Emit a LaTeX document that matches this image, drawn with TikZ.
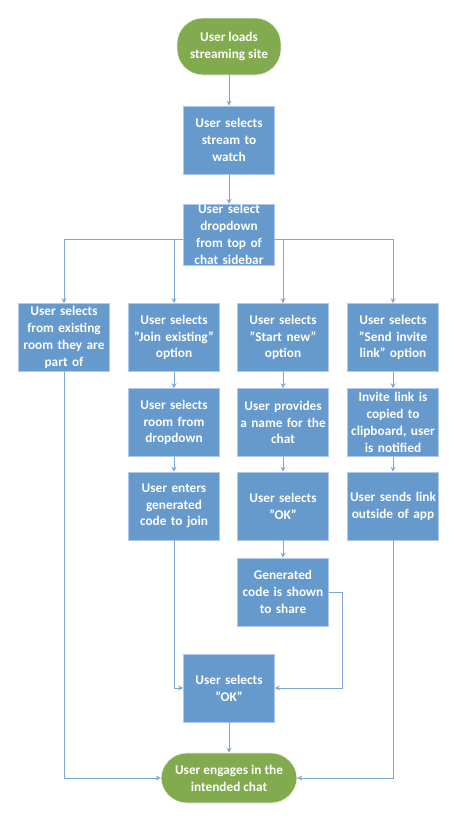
\documentclass[tikz,border=0pt]{standalone}
\usepackage{fontspec}
\setmainfont{Carlito}
\usetikzlibrary{positioning}
\usetikzlibrary{arrows.meta}
\definecolor{boxblue}{RGB}{102,153,204}
\definecolor{termgreen}{RGB}{130,170,78}
\definecolor{linkblue}{RGB}{125,165,215}
\definecolor{edgeblue}{RGB}{175,200,235}

\begin{document}
\begin{tikzpicture}[x=1pt,y=-1pt,
		base/.style={text=white, font=\bfseries\fontsize{13.3}{16.8}\selectfont, align=center, inner sep=0.5pt},
		stepbox/.style={base, fill=boxblue, draw=edgeblue, line width=0.6pt, minimum width=91pt, minimum height=68pt, text width=90pt},
		term/.style={base, fill=termgreen, draw=white!85!termgreen, line width=0.6pt, rounded corners=26pt},
		arr/.style={draw=linkblue, line width=1pt, -{Stealth[length=5pt,width=5pt]}}]
	\useasboundingbox (0,0) rectangle (457,822);

	% Start and first steps
	\node[term, minimum width=104pt, minimum height=57pt] (start) at (229,46.5) {User loads\\streaming site};
	\node[stepbox] (stream) at (229,140) {User selects\\stream to\\watch};
	\node[stepbox, minimum height=59pt] (dropdown) at (229,234.5) {User select\\dropdown\\from top of\\chat sidebar};
	\coordinate (fork) at (229,239);

	% Row 1
	\node[stepbox] (existing) at (64,337.5) {User selects\\from existing\\room they are\\part of};
	\node[stepbox] (join) at (174,337.5) {User selects\\"Join existing"\\option};
	\node[stepbox] (startnew) at (283,337.5) {User selects\\"Start new"\\option};
	\node[stepbox] (invite) at (393,337.5) {User selects\\"Send invite\\link" option};

	% Row 2
	\node[stepbox] (pickroom) at (174,422.5) {User selects\\room from\\dropdown};
	\node[stepbox] (naming) at (283,422.5) {User provides\\a name for the\\chat};
	\node[stepbox] (copied) at (393,422.5) {Invite link is\\copied to\\clipboard, user\\is notified};

	% Row 3
	\node[stepbox] (entercode) at (174,506) {User enters\\generated\\code to join};
	\node[stepbox] (selectok) at (283,506) {User selects\\"OK"};
	\node[stepbox] (sendlink) at (393,506) {User sends link\\outside of app};

	% Lower part
	\node[stepbox] (gencode) at (283,592) {Generated\\code is shown\\to share};
	\node[stepbox] (confirm) at (229,688) {User selects\\"OK"};
	\node[term, minimum width=136pt, minimum height=50pt] (engage) at (229,778) {User engages in the\\intended chat};

	% Connectors
	\draw[arr] (start) -- (stream);
	\draw[arr] (stream) -- (dropdown);
	\draw[arr] (dropdown.west |- fork) -| (existing.north);
	\draw[arr] (dropdown.west |- fork) -| (join.north);
	\draw[arr] (dropdown.east |- fork) -| (startnew.north);
	\draw[arr] (dropdown.east |- fork) -| (invite.north);
	\draw[arr] (join) -- (pickroom);
	\draw[arr] (pickroom) -- (entercode);
	\draw[arr] (startnew) -- (naming);
	\draw[arr] (naming) -- (selectok);
	\draw[arr] (selectok) -- (gencode);
	\draw[arr] (invite) -- (copied);
	\draw[arr] (copied) -- (sendlink);
	\draw[arr] (entercode.south) |- (confirm.west);
	\draw[arr] (gencode.east) -- ++(14,0) |- (confirm.east);
	\draw[arr] (confirm) -- (engage);
	\draw[arr] (existing.south) |- (engage.west);
	\draw[arr] (sendlink.south) |- (engage.east);
\end{tikzpicture}
\end{document}
